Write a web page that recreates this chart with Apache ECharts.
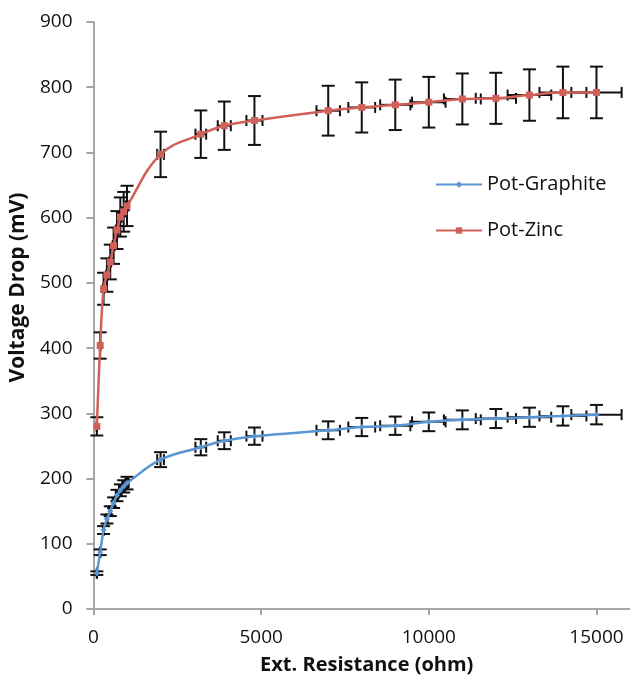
<!DOCTYPE html>
<html><head><meta charset="utf-8">
<script src="https://cdn.jsdelivr.net/npm/echarts@6/dist/echarts.min.js"></script>
<style>html,body{margin:0;padding:0;background:#fff}#c{width:630px;height:681px}</style>
</head><body><div id="c"></div>
<script>
// Data
const resistance = [100,200,300,400,500,600,700,800,900,1000,2000,3200,3900,4800,7000,8000,9000,10000,11000,12000,13000,14000,15000];
const graphite = [55,87,121,138,150,163,174,182,188,193,229,248,258,265,274,279,281,287,290,292,294,296,298];
const zinc = [280,404,491,512,532,557,581,601,609,618,697,728,741,749,764,769,773,777,782,783,788,792,792];
const seriesNames = ['Pot-Graphite','Pot-Zinc'];
const errorPercent = 5; // percentage error bars on both x and y
const xTicks = [0,5000,10000,15000];
const yTicks = [0,100,200,300,400,500,600,700,800,900];

const FONT = 'Open Sans';
const axisColor = '#a6a6a6';

function errorSeries(values) {
  return {
    type: 'custom', silent: true, z: 1,
    data: resistance.map((x, i) => [x, values[i], x * errorPercent / 100, values[i] * errorPercent / 100]),
    encode: { x: 0, y: 1 },
    renderItem(params, api) {
      const x = api.value(0), y = api.value(1), ex = api.value(2), ey = api.value(3);
      const c = api.coord([x, y]);
      const t = api.coord([x, y + ey]), b = api.coord([x, y - ey]);
      const l = api.coord([x - ex, y]), r = api.coord([x + ex, y]);
      const cw = 6.5, ch = 5.5;
      const style = { stroke: '#111', lineWidth: 2 };
      const ln = (x1, y1, x2, y2) => ({ type: 'line', shape: { x1, y1, x2, y2 }, style });
      return { type: 'group', children: [
        ln(c[0], t[1], c[0], b[1]),
        ln(c[0] - cw, t[1], c[0] + cw, t[1]),
        ln(c[0] - cw, b[1], c[0] + cw, b[1]),
        ln(l[0], c[1], r[0], c[1]),
        ln(l[0], c[1] - ch, l[0], c[1] + ch),
        ln(r[0], c[1] - ch, r[0], c[1] + ch)
      ]};
    }
  };
}

const chart = echarts.init(document.getElementById('c'), null, { renderer: 'canvas' });
chart.setOption({
  animation: false,
  backgroundColor: '#fff',
  textStyle: { fontFamily: FONT },
  grid: { left: 93, right: -2, top: 22, bottom: 72, containLabel: false },
  legend: {
    data: seriesNames,
    orient: 'vertical', left: 430, top: 169,
    itemWidth: 46, itemHeight: 8, itemGap: 25,
    textStyle: { fontFamily: FONT, fontSize: 20, color: '#111', lineHeight: 21 }
  },
  xAxis: {
    type: 'value', min: 0, max: 16000, interval: 5000,
    name: 'Ext. Resistance (ohm)', nameLocation: 'middle', nameGap: 46,
    nameTextStyle: { fontFamily: FONT, fontSize: 20, fontWeight: 'bold', color: '#111', padding: [0, 0, 0, 10] },
    axisLine: { show: true, lineStyle: { color: axisColor, width: 2 } },
    axisTick: { show: true, length: 6, lineStyle: { color: axisColor, width: 2 } },
    axisLabel: { margin: 19, fontSize: 19, color: '#111', fontFamily: FONT, showMaxLabel: false,
      formatter: v => xTicks.includes(v) ? String(v) : '' },
    splitLine: { show: false }
  },
  yAxis: {
    type: 'value', min: 0, max: 900, interval: 100,
    name: 'Voltage Drop (mV)', nameLocation: 'middle', nameGap: 63, nameRotate: 90,
    nameTextStyle: { fontFamily: FONT, fontSize: 21, fontWeight: 'bold', color: '#111', padding: [0, 0, 0, 56] },
    axisLine: { show: true, lineStyle: { color: axisColor, width: 2 } },
    axisTick: { show: true, length: 7, lineStyle: { color: axisColor, width: 2 } },
    axisLabel: { margin: 21, fontSize: 19, color: '#111', fontFamily: FONT,
      formatter: v => yTicks.includes(v) ? String(v) : '' },
    splitLine: { show: false }
  },
  series: [
    errorSeries(graphite),
    errorSeries(zinc),
    {
      name: seriesNames[0], type: 'line', z: 3,
      data: resistance.map((x, i) => [x, graphite[i]]),
      smooth: 0.4, symbol: 'diamond', symbolSize: 6,
      lineStyle: { color: '#5a96d2', width: 2.5 },
      itemStyle: { color: '#5a96d2' }
    },
    {
      name: seriesNames[1], type: 'line', z: 3,
      data: resistance.map((x, i) => [x, zinc[i]]),
      smooth: 0.4, symbol: 'rect', symbolSize: 7,
      lineStyle: { color: '#d2605a', width: 2.5 },
      itemStyle: { color: '#d2605a' }
    }
  ]
});
</script>
</body></html>
